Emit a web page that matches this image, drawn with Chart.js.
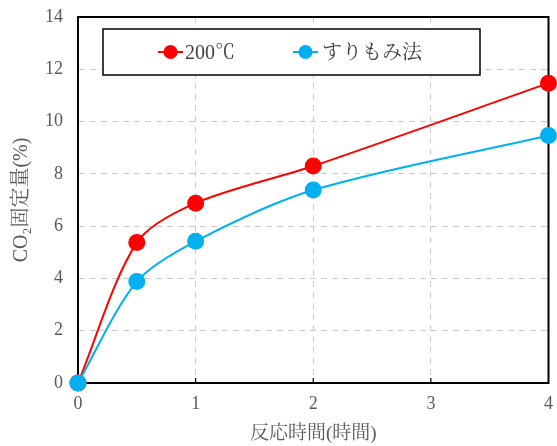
<!DOCTYPE html>
<html>
<head>
<meta charset="utf-8">
<script src="https://cdn.jsdelivr.net/npm/chart.js@4"></script>
<style>
html,body{margin:0;padding:0;background:#fff;}
#wrap{width:557px;height:446px;position:relative;}
</style>
</head>
<body>
<div id="wrap"><canvas id="c" width="557" height="446"></canvas></div>
<script>
const hours = [0, 0.5, 1, 2, 4];
const series200C = [0, 5.37, 6.88, 8.3, 11.47];
const seriesSurimomi = [0, 3.88, 5.42, 7.38, 9.47];
const seriesLabels = ['200℃', 'すりもみ法'];
const xTicks = [0, 1, 2, 3, 4];
const yTicks = [0, 2, 4, 6, 8, 10, 12, 14];
const xTitle = '反応時間(時間)';
const yTitle = 'CO₂固定量(%)';

const FONT = '"Liberation Serif", "Noto Serif CJK JP", "Noto Sans CJK JP", serif';
const TXT = '#595959';

const legendPlugin = {
  id: 'boxLegend',
  afterDraw(chart) {
    const ctx = chart.ctx;
    const x0 = 103, y0 = 29, w = 377, h = 46;
    ctx.save();
    ctx.fillStyle = '#fff';
    ctx.fillRect(x0, y0, w, h);
    ctx.lineWidth = 1.5;
    ctx.strokeStyle = '#000';
    ctx.strokeRect(x0, y0, w, h);
    const items = [
      {lx: 158, tx: 185},
      {lx: 293, tx: 322}
    ];
    const cy = 52;
    chart.data.datasets.forEach((ds, i) => {
      const it = items[i];
      ctx.strokeStyle = ds.borderColor;
      ctx.lineWidth = 2;
      ctx.beginPath();
      ctx.moveTo(it.lx, cy);
      ctx.lineTo(it.lx + 25, cy);
      ctx.stroke();
      ctx.fillStyle = ds.backgroundColor;
      ctx.beginPath();
      ctx.arc(it.lx + 12.5, cy, 7, 0, Math.PI * 2);
      ctx.fill();
      ctx.fillStyle = '#404040';
      ctx.font = '20px ' + FONT;
      ctx.textBaseline = 'middle';
      ctx.fillText(ds.label, it.tx, cy + 2);
    });
    ctx.restore();
  }
};

const frameTicks = {
  id: 'frameTicks',
  beforeDatasetsDraw(chart) {
    const ctx = chart.ctx;
    const xs = chart.scales.x;
    const a = chart.chartArea;
    ctx.save();
    ctx.strokeStyle = '#000';
    ctx.lineWidth = 2;
    ctx.strokeRect(a.left, a.top, a.right - a.left, a.bottom - a.top);
    ctx.lineWidth = 1.2;
    xTicks.forEach(v => {
      if (v === xTicks[0] || v === xTicks[xTicks.length - 1]) return;
      const px = xs.getPixelForValue(v);
      ctx.beginPath();
      ctx.moveTo(px, a.bottom);
      ctx.lineTo(px, a.bottom - 5);
      ctx.stroke();
    });
    ctx.restore();
  }
};

new Chart(document.getElementById('c'), {
  type: 'line',
  data: {
    datasets: [
      {
        label: seriesLabels[0],
        data: hours.map((h, i) => ({x: h, y: series200C[i]})),
        borderColor: '#ff0000',
        backgroundColor: '#ff0000',
        borderWidth: 2,
        pointRadius: 8.5,
        pointHoverRadius: 8.5,
        pointBorderWidth: 0,
        tension: 0.3,
        clip: false,
        order: 1
      },
      {
        label: seriesLabels[1],
        data: hours.map((h, i) => ({x: h, y: seriesSurimomi[i]})),
        borderColor: '#00b0f0',
        backgroundColor: '#00b0f0',
        borderWidth: 2,
        pointRadius: 8.5,
        pointHoverRadius: 8.5,
        pointBorderWidth: 0,
        tension: 0.3,
        clip: false,
        order: 0
      }
    ]
  },
  options: {
    responsive: false,
    animation: false,
    events: [],
    layout: {padding: {left: 0, right: 8, top: 17, bottom: 0}},
    plugins: {legend: {display: false}, tooltip: {enabled: false}},
    scales: {
      x: {
        type: 'linear',
        min: 0, max: 4,
        afterBuildTicks(s) { s.ticks = xTicks.map(v => ({value: v})); },
        afterFit(s) { s.height = 63; s.paddingLeft = 0; s.paddingRight = 0; },
        grid: {color: '#cccccc', lineWidth: 1, drawTicks: false},
        border: {display: true, color: '#000', width: 2, dash: [6, 5]},
        ticks: {color: TXT, font: {family: FONT, size: 18}, padding: 10, maxRotation: 0},
        title: {display: true, text: xTitle, color: TXT, font: {family: FONT, size: 19}, padding: {top: 0, bottom: 1}}
      },
      y: {
        min: 0, max: 14,
        afterBuildTicks(s) { s.ticks = yTicks.map(v => ({value: v})); },
        afterFit(s) { s.width = 78; s.paddingTop = 0; s.paddingBottom = 0; },
        grid: {color: '#cccccc', lineWidth: 1, drawTicks: false},
        border: {display: true, color: '#000', width: 2, dash: [6, 5]},
        ticks: {color: TXT, font: {family: FONT, size: 18}, padding: 15},
        title: {display: true, text: yTitle, color: TXT, font: {family: FONT, size: 20}, padding: {top: 10, bottom: 0}}
      }
    }
  },
  plugins: [frameTicks, legendPlugin]
});
</script>
</body>
</html>
